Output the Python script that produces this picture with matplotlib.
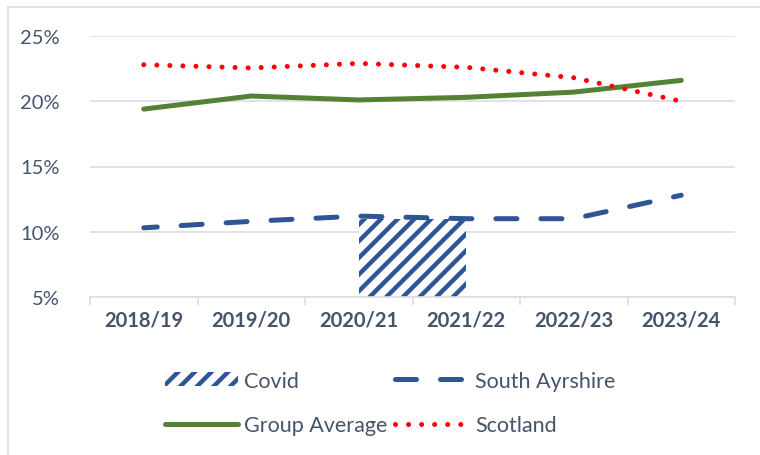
import matplotlib.pyplot as plt
import numpy as np
from matplotlib.patches import Patch
from matplotlib.lines import Line2D

# data (percent)
years = ['2018/19', '2019/20', '2020/21', '2021/22', '2022/23', '2023/24']
south_ayrshire = [10.3, 10.8, 11.2, 11.0, 11.0, 12.8]
group_average = [19.4, 20.4, 20.1, 20.3, 20.7, 21.6]
scotland = [22.8, 22.55, 22.9, 22.6, 21.8, 20.0]
covid_start = 2          # covid block spans 2020/21 to 2021/22
covid_value = 11.0

TEXT = '#44546A'
GRID = '#D9DDE3'
BLUE = '#2F5597'
GREEN = '#548235'
RED = '#FF0000'

plt.rcParams['font.family'] = ['Lato', 'DejaVu Sans']
plt.rcParams['hatch.linewidth'] = 3.2

DASH = (0, (4.2, 4.8))
DOT = (0, (0.01, 2.6))

def main():
	fig = plt.figure(figsize=(7.6, 4.56), dpi=100)
	ax = fig.add_axes([90/760, 1-298/456, 645/760, (298-37)/456])

	x = np.arange(len(years))
	base = 5
	ax.bar(covid_start, covid_value - base, bottom=base, width=1.0, align='edge',
		facecolor='white', edgecolor=BLUE, hatch='//', linewidth=0, zorder=2)

	ax.plot(x, group_average, color=GREEN, lw=3.6, solid_capstyle='round', zorder=3)
	ax.plot(x, scotland, color=RED, lw=3.6, linestyle=DOT, dash_capstyle='round', zorder=4)
	ax.plot(x, south_ayrshire, color=BLUE, lw=3.6, linestyle=(1.5, (4.2, 4.8)),
		dash_capstyle='round', zorder=4)

	ax.set_xlim(-0.5, len(years) - 0.5)
	ax.set_ylim(5, 25)
	ax.set_yticks([5, 10, 15, 20, 25])
	ax.set_yticklabels(['%d%%' % v for v in [5, 10, 15, 20, 25]])
	ax.set_xticks(x)
	ax.set_xticklabels(years, fontweight='bold')
	ax.set_xticks(np.arange(-0.5, len(years)), minor=True)

	for s in ['top', 'right', 'left']:
		ax.spines[s].set_visible(False)
	ax.spines['bottom'].set_color(GRID)
	ax.spines['bottom'].set_linewidth(1.2)
	ax.yaxis.grid(True, color=GRID, lw=1.2)
	ax.set_axisbelow(True)

	ax.tick_params(axis='y', length=0, pad=22, labelsize=14.5, labelcolor=TEXT)
	ax.tick_params(axis='x', which='major', length=0, pad=9, labelsize=14.5, labelcolor=TEXT)
	ax.tick_params(axis='x', which='minor', length=6, width=1.2, color=GRID)

	# chart area border (top and left edges visible)
	fig.add_artist(Line2D([8/760, 8/760], [0, 1-8/456], color=GRID, lw=1.2))
	fig.add_artist(Line2D([8/760, 1], [1-8/456, 1-8/456], color=GRID, lw=1.2))

	# legend filled column by column, so order gives rows Covid/South Ayrshire, Group Average/Scotland
	handles = [
		Patch(facecolor='white', edgecolor=BLUE, hatch='//', linewidth=0),
		Line2D([], [], color=GREEN, lw=3.6, solid_capstyle='round'),
		Line2D([], [], color=BLUE, lw=3.6, linestyle=DASH, dash_capstyle='round'),
		Line2D([], [], color=RED, lw=3.6, linestyle=DOT, dash_capstyle='round'),
	]
	labels = ['Covid', 'Group Average', 'South Ayrshire', 'Scotland']
	leg = fig.legend(handles, labels, ncol=2, loc='center', bbox_to_anchor=(390/760, 1-404/456),
		frameon=False, fontsize=15.5, handlelength=3.4, handleheight=0.6,
		handletextpad=0.3, columnspacing=0.35, labelspacing=1.15)
	for t in leg.get_texts():
		t.set_color(TEXT)

	fig.savefig('out.png', dpi=100)

if __name__ == "__main__":
	main()
